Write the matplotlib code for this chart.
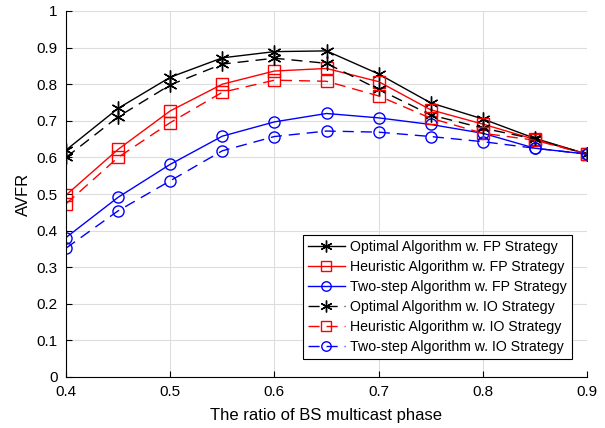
import matplotlib.pyplot as plt

plt.rcParams['font.family'] = ['Liberation Sans', 'DejaVu Sans']

x = [0.4, 0.45, 0.5, 0.55, 0.6, 0.65, 0.7, 0.75, 0.8, 0.85, 0.9]
opt_fp = [0.62, 0.734, 0.819, 0.872, 0.889, 0.891, 0.828, 0.749, 0.705, 0.652, 0.609]
heu_fp = [0.497, 0.622, 0.727, 0.800, 0.836, 0.843, 0.807, 0.730, 0.691, 0.649, 0.609]
two_fp = [0.381, 0.491, 0.581, 0.658, 0.697, 0.720, 0.708, 0.690, 0.666, 0.625, 0.609]
opt_io = [0.600, 0.711, 0.798, 0.855, 0.871, 0.857, 0.786, 0.716, 0.680, 0.650, 0.609]
heu_io = [0.473, 0.600, 0.695, 0.778, 0.811, 0.808, 0.768, 0.707, 0.666, 0.647, 0.609]
two_io = [0.352, 0.454, 0.536, 0.618, 0.657, 0.672, 0.669, 0.657, 0.643, 0.625, 0.609]

labels = ['Optimal Algorithm w. FP Strategy', 'Heuristic Algorithm w. FP Strategy',
          'Two-step Algorithm w. FP Strategy', 'Optimal Algorithm w. IO Strategy',
          'Heuristic Algorithm w. IO Strategy', 'Two-step Algorithm w. IO Strategy']

fig = plt.figure(figsize=(6.05, 4.28), dpi=100)
ax = fig.add_axes([66/605, 1 - 377/428, 521/605, 366/428])

star = (6, 2, 0)
kw = dict(linewidth=1.0, markerfacecolor='none', markeredgewidth=1.0)
ax.plot(x, opt_fp, '-', color='k', marker=star, markersize=10, label=labels[0], **kw)
ax.plot(x, heu_fp, '-', color='r', marker='s', markersize=8, label=labels[1], **kw)
ax.plot(x, two_fp, '-', color='b', marker='o', markersize=8, label=labels[2], **kw)
ax.plot(x, opt_io, '--', color='k', marker=star, markersize=10, label=labels[3], dashes=(8, 5), **kw)
ax.plot(x, heu_io, '--', color='r', marker='s', markersize=8, label=labels[4], dashes=(8, 5), **kw)
ax.plot(x, two_io, '--', color='b', marker='o', markersize=8, label=labels[5], dashes=(8, 5), **kw)

ax.set_xlim(0.4, 0.9)
ax.set_ylim(0, 1)
ax.set_xticks([0.4, 0.5, 0.6, 0.7, 0.8, 0.9])
ax.set_yticks([i / 10 for i in range(11)])
ax.set_yticklabels(['0'] + ['%.1f' % (i / 10) for i in range(1, 10)] + ['1'])
ax.tick_params(direction='in', labelsize=11, length=4, pad=6)
ax.grid(True, color='#dddddd', linewidth=0.8)
ax.spines['top'].set_visible(False)
ax.spines['right'].set_visible(False)
ax.set_xlabel('The ratio of BS multicast phase', fontsize=12, labelpad=6)
ax.set_ylabel('AVFR', fontsize=12, labelpad=4)

leg = ax.legend(loc='lower right', bbox_to_anchor=(0.971, 0.049), fontsize=10.2,
                fancybox=False, edgecolor='k', framealpha=1, handlelength=2.6,
                borderpad=0.35, labelspacing=0.42, handletextpad=0.4, borderaxespad=0,
                markerscale=0.85)
leg.get_frame().set_linewidth(0.8)

fig.savefig('out.png', dpi=100)
